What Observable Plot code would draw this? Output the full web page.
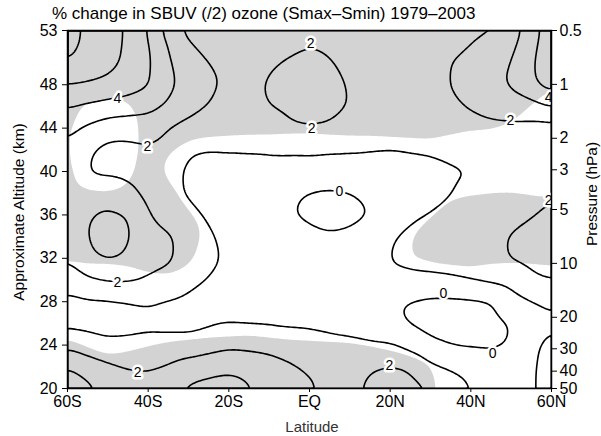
<!DOCTYPE html>
<html>
<head>
<meta charset="utf-8">
<script src="https://cdn.jsdelivr.net/npm/d3@7"></script>
<script src="https://cdn.jsdelivr.net/npm/@observablehq/plot@0.6"></script>
<style>
  html, body { margin: 0; padding: 0; background: #fff; }
  #chart svg { display: block; }
</style>
</head>
<body>
<div id="chart"></div>
<script>
// Grid of the ozone field: latitude columns (deg, S negative) and altitude rows (km)
const latitudes = [-60, -55, -50, -45, -40, -35, -30, -25, -20, -15, -10, -5, 0, 5, 10, 15, 20, 25, 30, 35, 40, 45, 50, 55, 60];
const altitudes = [20, 22, 24, 26, 28, 30, 32, 34, 36, 38, 40, 42, 44, 46, 48, 50, 52, 53];

// Percent change in ozone, solar max minus solar min, one row per altitude
const pct20 = [3.6, 3.25, 2.8, 2.4, 2.35, 2.9, 3.2, 3.35, 3.5, 3.1, 2.7, 2.3, 2.1, 1.8, 1.7, 2.25, 2.4, 2.35, 2.05, 1.55, 0.99, 0.7, 0.7, 0.9, 1.3];
const pct22 = [3.05, 2.53, 2.2, 1.95, 1.9, 2.05, 2.44, 2.63, 2.76, 2.6, 2.45, 2.15, 1.9, 1.75, 1.65, 1.92, 2.1, 1.95, 1.15, 0.85, 0.6, 0.45, 0.55, 0.9, 1.3];
const pct24 = [1.8, 1.47, 1.2, 1.24, 1.31, 1.33, 1.37, 1.6, 1.83, 1.78, 1.68, 1.5, 1.43, 1.3, 1.25, 1.15, 1.1, 0.6, 0.15, -0.05, -0.1, -0.15, 0.03, 0.75, 1.35];
const pct26 = [0.75, 0.72, 0.65, 0.7, 0.8, 0.75, 0.7, 0.85, 0.98, 0.95, 0.93, 0.88, 0.85, 0.75, 0.65, 0.5, 0.2, -0.1, -0.3, -0.35, -0.35, -0.25, -0.02, 0.5, 0.85];
const pct28 = [0.8, 0.85, 0.85, 0.95, 1.06, 0.92, 0.8, 0.7, 0.6, 0.55, 0.5, 0.5, 0.5, 0.45, 0.4, 0.3, 0.1, -0.1, -0.25, -0.25, -0.2, -0.1, 0.6, 0.98, 1.2];
const pct30 = [1.38, 1.88, 2.1, 2.1, 1.86, 1.59, 1.25, 0.95, 0.7, 0.55, 0.5, 0.5, 0.5, 0.5, 0.55, 0.65, 0.8, 0.85, 0.85, 0.9, 1.03, 1.2, 1.35, 1.85, 2.05];
const pct32 = [2.05, 2.85, 3.15, 2.92, 2.4, 2.2, 1.55, 1.2, 0.85, 0.65, 0.55, 0.5, 0.45, 0.4, 0.4, 0.6, 1.05, 1.15, 1.25, 1.35, 1.5, 1.7, 2.1, 2.25, 2.4];
const pct34 = [2.4, 3.05, 3.3, 3.1, 2.5, 2.15, 1.62, 1.1, 0.8, 0.65, 0.5, 0.35, 0.2, 0.08, 0.15, 0.45, 0.93, 1.2, 1.35, 1.5, 1.7, 1.85, 2.05, 2.3, 2.45];
const pct36 = [2.5, 2.95, 3.2, 3.05, 2.05, 1.5, 1.25, 0.85, 0.7, 0.55, 0.35, 0.03, -0.15, -0.3, -0.2, -0.02, 0.3, 0.85, 1.05, 1.28, 1.45, 1.6, 1.77, 1.93, 2.1];
const pct38 = [2.6, 2.55, 2.65, 2.2, 1.7, 1.25, 0.9, 0.75, 0.6, 0.5, 0.35, 0.12, -0.05, -0.12, -0.05, 0.15, 0.3, 0.5, 0.7, 0.97, 1.2, 1.45, 1.7, 1.85, 1.93];
const pct40 = [2.7, 1.95, 1.8, 1.75, 1.7, 1.2, 0.9, 0.8, 0.75, 0.7, 0.62, 0.55, 0.5, 0.45, 0.5, 0.6, 0.65, 0.7, 0.75, 0.9, 0.97, 1.2, 1.35, 1.5, 1.8];
const pct42 = [2.87, 2.12, 1.7, 1.7, 1.85, 1.6, 1.03, 0.98, 1.03, 1.07, 1.12, 1.15, 1.2, 1.12, 1.08, 1.02, 0.98, 1.05, 1.1, 1.2, 1.35, 1.45, 1.55, 1.65, 1.75];
const pct44 = [3.22, 2.8, 2.43, 2.41, 2.53, 1.97, 1.68, 1.46, 1.45, 1.5, 1.6, 1.93, 2.02, 1.95, 1.75, 1.55, 1.45, 1.45, 1.5, 1.6, 1.7, 1.8, 1.75, 1.7, 1.6];
const pct46 = [4.09, 3.82, 3.61, 3.47, 3.29, 2.83, 2.35, 1.95, 1.75, 1.75, 2.02, 2.15, 2.2, 2.15, 1.98, 1.75, 1.6, 1.55, 1.65, 1.85, 2.08, 2.32, 2.55, 2.6, 3.1];
const pct48 = [4.98, 4.92, 4.8, 4.55, 4.12, 3.2, 2.69, 2.15, 1.85, 1.88, 2.05, 2.2, 2.25, 2.2, 1.95, 1.7, 1.55, 1.55, 1.7, 2.03, 2.35, 2.7, 3.13, 3.86, 4.5];
const pct50 = [6.05, 5.64, 5.27, 4.82, 4.19, 3.1, 2.5, 1.97, 1.8, 1.85, 1.95, 2.05, 2.12, 2.05, 1.85, 1.65, 1.5, 1.45, 1.55, 2.02, 2.34, 2.66, 2.97, 3.93, 4.6];
const pct52 = [6.3, 5.84, 5.39, 4.87, 4.08, 2.875, 1.98, 1.7, 1.6, 1.65, 1.75, 1.88, 1.97, 1.9, 1.75, 1.55, 1.45, 1.4, 1.45, 1.6, 1.95, 2.38, 2.65, 3.75, 4.6];
const pct53 = [6.3, 5.84, 5.39, 4.89, 3.95, 2.5, 1.65, 1.6, 1.55, 1.6, 1.7, 1.8, 1.85, 1.8, 1.7, 1.55, 1.45, 1.4, 1.45, 1.55, 1.7, 1.75, 2.45, 3.51, 4.7];

// Significance ratio of the fit; values of 2 and above are shaded
const sig20 = [3.2, 3.2, 3.2, 3.2, 3.2, 3.2, 3.2, 3.2, 3.2, 3.2, 3.2, 3.2, 3.2, 3.2, 3.2, 3.2, 3.2, 3.2, 2.6, 0.6, 0.6, 0.6, 0.6, 0.6, 0.6];
const sig22 = [3.2, 2.9, 2.55, 2.7, 2.95, 3.15, 3.2, 3.2, 3.2, 3.2, 3.2, 3.2, 3.2, 3.15, 3.1, 2.95, 2.75, 2.5, 2.1, 0.6, 0.6, 0.6, 0.6, 0.6, 0.6];
const sig24 = [2.3, 1.9, 1.55, 1.7, 1.95, 2.15, 2.25, 2.35, 2.4, 2.45, 2.35, 2.25, 2.2, 2.15, 2.1, 1.95, 1.75, 1.5, 1.1, 0.6, 0.6, 0.6, 0.6, 0.6, 0.6];
const sig26 = [1.3, 0.9, 0.6, 0.7, 0.95, 1.15, 1.25, 1.35, 1.4, 1.45, 1.35, 1.25, 1.2, 1.15, 1.1, 0.95, 0.75, 0.6, 0.6, 0.6, 0.6, 0.6, 0.6, 0.6, 0.6];
const sig28 = [0.6, 0.6, 0.6, 0.6, 0.6, 0.6, 0.6, 0.6, 0.6, 0.6, 0.6, 0.6, 0.6, 0.6, 0.6, 0.6, 0.6, 0.6, 0.6, 0.6, 0.6, 0.6, 0.6, 0.6, 0.6];
const sig30 = [1.1, 1.25, 1.25, 1.35, 1.65, 1.75, 1.35, 0.6, 0.6, 0.6, 0.6, 0.6, 0.6, 0.6, 0.6, 0.6, 0.6, 0.6, 1.2, 1.3, 1.4, 1.25, 1.2, 1.25, 1.35];
const sig32 = [2.1, 2.25, 2.25, 2.35, 2.65, 2.75, 2.35, 1.2, 0.6, 0.6, 0.6, 0.6, 0.6, 0.6, 0.6, 0.6, 0.6, 2.05, 2.2, 2.3, 2.4, 2.25, 2.2, 2.25, 2.35];
const sig34 = [3.1, 3.2, 3.2, 3.2, 3.2, 3.2, 3.2, 1.2, 0.6, 0.6, 0.6, 0.6, 0.6, 0.6, 0.6, 0.6, 0.6, 1.95, 2.9, 3.2, 3.2, 3.2, 3.2, 3.2, 3.2];
const sig36 = [3.2, 3.15, 3.05, 3.2, 3.2, 3.2, 2.3, 1.0, 0.6, 0.6, 0.6, 0.6, 0.6, 0.6, 0.6, 0.6, 0.6, 1.0, 1.9, 2.7, 2.9, 3.0, 3.05, 2.9, 2.8];
const sig38 = [2.5, 2.15, 2.05, 2.35, 3.2, 2.55, 1.3, 0.6, 0.6, 0.6, 0.6, 0.6, 0.6, 0.6, 0.6, 0.6, 0.6, 0.6, 0.9, 1.7, 1.9, 2.0, 2.05, 1.9, 1.8];
const sig40 = [2.5, 1.15, 1.05, 1.35, 3.2, 1.45, 0.6, 0.6, 0.6, 0.6, 0.6, 0.6, 0.6, 0.6, 0.6, 0.6, 0.6, 0.6, 0.6, 0.7, 0.9, 1.0, 1.05, 0.9, 0.8];
const sig42 = [2.5, 0.6, 0.6, 0.7, 3.2, 2.15, 1.55, 1.4, 1.35, 1.3, 1.3, 1.25, 1.25, 1.3, 1.35, 1.35, 1.4, 1.45, 1.5, 1.3, 1.1, 1.05, 0.75, 0.6, 0.6];
const sig44 = [2.5, 0.6, 0.65, 0.75, 3.2, 3.2, 2.55, 2.4, 2.35, 2.3, 2.3, 2.25, 2.25, 2.3, 2.35, 2.35, 2.4, 2.45, 2.5, 2.3, 2.1, 2.05, 1.75, 0.95, 0.6];
const sig46 = [2.5, 1.75, 1.65, 1.75, 3.2, 3.2, 3.2, 3.2, 3.2, 3.2, 3.2, 3.2, 3.2, 3.2, 3.2, 3.2, 3.2, 3.2, 3.2, 3.2, 3.2, 3.05, 2.75, 1.95, 1.15];
const sig48 = [3.2, 2.75, 2.65, 2.75, 3.2, 3.2, 3.2, 3.2, 3.2, 3.2, 3.2, 3.2, 3.2, 3.2, 3.2, 3.2, 3.2, 3.2, 3.2, 3.2, 3.2, 3.2, 3.2, 2.95, 2.15];
const sig50 = [3.2, 3.2, 3.2, 3.2, 3.2, 3.2, 3.2, 3.2, 3.2, 3.2, 3.2, 3.2, 3.2, 3.2, 3.2, 3.2, 3.2, 3.2, 3.2, 3.2, 3.2, 3.2, 3.2, 3.2, 3.15];
const sig52 = [3.2, 3.2, 3.2, 3.2, 3.2, 3.2, 3.2, 3.2, 3.2, 3.2, 3.2, 3.2, 3.2, 3.2, 3.2, 3.2, 3.2, 3.2, 3.2, 3.2, 3.2, 3.2, 3.2, 3.2, 3.2];
const sig53 = [3.2, 3.2, 3.2, 3.2, 3.2, 3.2, 3.2, 3.2, 3.2, 3.2, 3.2, 3.2, 3.2, 3.2, 3.2, 3.2, 3.2, 3.2, 3.2, 3.2, 3.2, 3.2, 3.2, 3.2, 3.2];

const pctRows = [pct20, pct22, pct24, pct26, pct28, pct30, pct32, pct34, pct36, pct38, pct40, pct42, pct44, pct46, pct48, pct50, pct52, pct53];
const sigRows = [sig20, sig22, sig24, sig26, sig28, sig30, sig32, sig34, sig36, sig38, sig40, sig42, sig44, sig46, sig48, sig50, sig52, sig53];

// Contour levels (interval 1 %) and the shading cut-off
const contourLevels = [0, 1, 2, 3, 4, 5, 6];
const shadeLevel = [2];

// Contour labels
const labelLat = [0.3, 0.5, -47.6, -40.2, 49.8, 59.3, 59.3, 7.4, 33.2, 45.4, -47.6, -42.6, 19.8];
const labelAlt = [51.8, 44.0, 46.7, 42.3, 44.7, 46.8, 37.3, 38.2, 28.8, 23.2, 29.8, 21.5, 22.1];
const labelValue = [2, 2, 4, 2, 2, 4, 2, 0, 0, 0, 2, 2, 2];

// Axes
const latTicks = [-60, -40, -20, 0, 20, 40, 60];
const latTickLabels = ["60S", "40S", "20S", "EQ", "20N", "40N", "60N"];
const altTicks = [20, 24, 28, 32, 36, 40, 44, 48, 53];
const pressureTicks = [0.5, 1, 2, 3, 5, 10, 20, 30, 40, 50];

// Log-pressure height: 0.5 hPa sits at 53 km and 50 hPa at 20 km
const scaleHeight = (53 - 20) / Math.log(50 / 0.5);
const altitudeOfPressure = p => 53 - scaleHeight * Math.log(p / 0.5);
const pressureAlts = pressureTicks.map(altitudeOfPressure);

const field = altitudes.flatMap((alt, j) =>
  latitudes.map((lat, i) => ({lat, alt, pct: pctRows[j][i], sig: sigRows[j][i]}))
);

const font = "'Liberation Sans', Arial, Helvetica, sans-serif";

const chart = Plot.plot({
  width: 601,
  height: 436,
  marginLeft: 67,
  marginRight: 50,
  marginTop: 30,
  marginBottom: 48,
  style: {fontFamily: font, fontSize: "16px", color: "black", background: "white", overflow: "visible"},
  x: {domain: [-60, 60]},
  y: {domain: [20, 53]},
  marks: [
    Plot.contour(field, {
      x: "lat", y: "alt", value: "sig",
      thresholds: shadeLevel, interpolate: "barycentric", blur: 3,
      fill: "#d3d3d3", stroke: "none", clip: "frame"
    }),
    Plot.contour(field, {
      x: "lat", y: "alt", value: "pct",
      thresholds: contourLevels, interpolate: "barycentric", blur: 3,
      fill: "none", stroke: "black", strokeWidth: 1.6, clip: "frame"
    }),
    Plot.text(labelValue, {
      x: labelLat, y: labelAlt, text: labelValue.map(String),
      fill: "black", stroke: "white", strokeWidth: 5, fontSize: 14, clip: "frame"
    }),
    Plot.frame({stroke: "black", strokeWidth: 1.5}),
    Plot.axisX({
      ticks: latTicks,
      tickFormat: d => latTickLabels[latTicks.indexOf(d)],
      tickSize: 4, tickPadding: 3, label: null
    }),
    Plot.axisY({ticks: altTicks, tickFormat: d => String(d), tickSize: 5, tickPadding: 5, label: null}),
    Plot.axisY({
      anchor: "right",
      ticks: pressureAlts,
      tickFormat: d => String(pressureTicks[pressureAlts.indexOf(d)]),
      tickSize: 5, tickPadding: 3, label: null
    })
  ]
});

const svg = d3.select(chart);

svg.append("text")
  .attr("x", 52).attr("y", 19)
  .attr("text-anchor", "start")
  .attr("font-size", 17)
  .attr("fill", "black")
  .text("% change in SBUV (/2) ozone (Smax\u2013Smin) 1979\u20132003");

svg.append("text")
  .attr("transform", "translate(24,212) rotate(-90)")
  .attr("text-anchor", "middle")
  .attr("font-size", 15.5)
  .attr("fill", "black")
  .text("Approximate Altitude (km)");

svg.append("text")
  .attr("transform", "translate(597,194) rotate(-90)")
  .attr("text-anchor", "middle")
  .attr("font-size", 15.5)
  .attr("fill", "black")
  .text("Pressure (hPa)");

svg.append("text")
  .attr("x", 312).attr("y", 432)
  .attr("text-anchor", "middle")
  .attr("font-size", 15)
  .attr("fill", "#333")
  .text("Latitude");

document.getElementById("chart").appendChild(chart);
</script>
</body>
</html>
